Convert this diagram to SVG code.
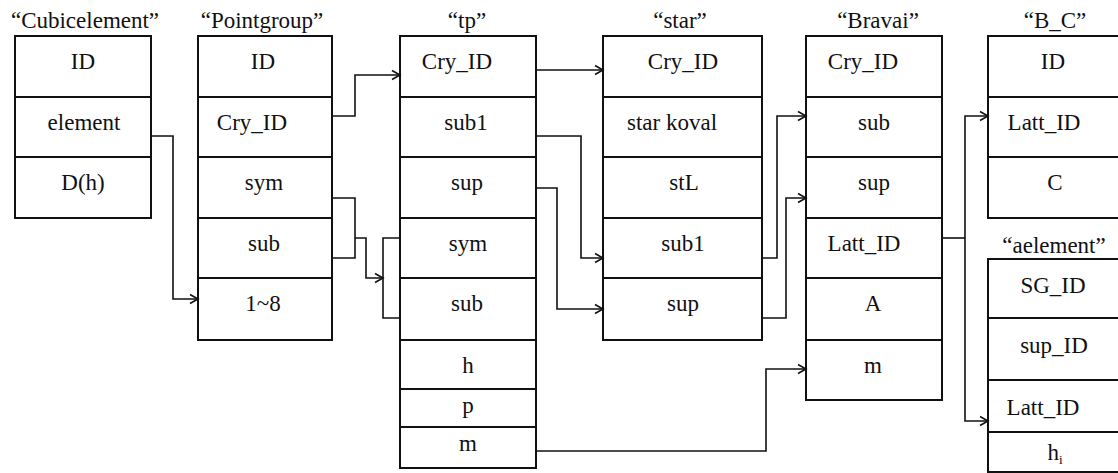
<svg xmlns="http://www.w3.org/2000/svg" width="1118" height="473" viewBox="0 0 1118 473">
  <style>
    .box { fill: #fff; stroke: #111; stroke-width: 2; }
    .sep { stroke: #111; stroke-width: 2; }
    .lbl { font-size: 23px; fill: #111; text-anchor: middle; }
    .wire { fill: none; stroke: #111; stroke-width: 1.6; }
    .arr { marker-end: url(#chev); }
  </style>
  <defs>
    <marker id="chev" markerUnits="userSpaceOnUse" markerWidth="12" markerHeight="12" viewBox="0 0 12 12" refX="10" refY="6" orient="auto">
      <path d="M2,1.5 L10,6 L2,10.5" fill="none" stroke="#111" stroke-width="1.6"/>
    </marker>
  </defs>
  <rect width="1118" height="473" fill="#fff"/>

  <g font-family="Liberation Serif, Tinos, Times New Roman, Times, DejaVu Serif, Noto Serif, FreeSerif, serif">
  <!-- table: Cubicelement -->
  <g id="cubicelement">
    <text class="lbl" x="85" y="28">“Cubicelement”</text>
    <rect class="box" x="15" y="36" width="136" height="182"/>
    <line class="sep" x1="15" y1="97" x2="151" y2="97"/>
    <line class="sep" x1="15" y1="157" x2="151" y2="157"/>
    <text class="lbl" x="83" y="69">ID</text>
    <text class="lbl" x="84" y="130">element</text>
    <text class="lbl" x="83" y="190">D(h)</text>
  </g>

  <!-- table: Pointgroup -->
  <g id="pointgroup">
    <text class="lbl" x="262" y="28">“Pointgroup”</text>
    <rect class="box" x="198" y="36" width="134" height="304"/>
    <line class="sep" x1="198" y1="97" x2="332" y2="97"/>
    <line class="sep" x1="198" y1="157" x2="332" y2="157"/>
    <line class="sep" x1="198" y1="218" x2="332" y2="218"/>
    <line class="sep" x1="198" y1="278" x2="332" y2="278"/>
    <text class="lbl" x="263" y="69">ID</text>
    <text class="lbl" x="252" y="130">Cry_ID</text>
    <text class="lbl" x="264" y="190">sym</text>
    <text class="lbl" x="264" y="251">sub</text>
    <text class="lbl" x="263" y="311">1~8</text>
  </g>

  <!-- table: tp -->
  <g id="tp">
    <text class="lbl" x="467" y="28">“tp”</text>
    <rect class="box" x="400" y="36" width="136" height="432"/>
    <line class="sep" x1="400" y1="97" x2="536" y2="97"/>
    <line class="sep" x1="400" y1="157" x2="536" y2="157"/>
    <line class="sep" x1="400" y1="218" x2="536" y2="218"/>
    <line class="sep" x1="400" y1="278" x2="536" y2="278"/>
    <line class="sep" x1="400" y1="340" x2="536" y2="340"/>
    <line class="sep" x1="400" y1="389" x2="536" y2="389"/>
    <line class="sep" x1="400" y1="427" x2="536" y2="427"/>
    <text class="lbl" x="457" y="69">Cry_ID</text>
    <text class="lbl" x="466" y="130">sub1</text>
    <text class="lbl" x="467" y="190">sup</text>
    <text class="lbl" x="468" y="251">sym</text>
    <text class="lbl" x="467" y="311">sub</text>
    <text class="lbl" x="468" y="373">h</text>
    <text class="lbl" x="468" y="413">p</text>
    <text class="lbl" x="468" y="451">m</text>
  </g>

  <!-- table: star -->
  <g id="star">
    <text class="lbl" x="680" y="28">“star”</text>
    <rect class="box" x="603" y="36" width="159" height="304"/>
    <line class="sep" x1="603" y1="97" x2="762" y2="97"/>
    <line class="sep" x1="603" y1="157" x2="762" y2="157"/>
    <line class="sep" x1="603" y1="218" x2="762" y2="218"/>
    <line class="sep" x1="603" y1="278" x2="762" y2="278"/>
    <text class="lbl" x="683" y="69">Cry_ID</text>
    <text class="lbl" x="672" y="130">star koval</text>
    <text class="lbl" x="684" y="190">stL</text>
    <text class="lbl" x="683" y="251">sub1</text>
    <text class="lbl" x="683" y="311">sup</text>
  </g>

  <!-- table: Bravai -->
  <g id="bravai">
    <text class="lbl" x="878" y="28">“Bravai”</text>
    <rect class="box" x="806" y="36" width="136" height="364"/>
    <line class="sep" x1="806" y1="97" x2="942" y2="97"/>
    <line class="sep" x1="806" y1="157" x2="942" y2="157"/>
    <line class="sep" x1="806" y1="218" x2="942" y2="218"/>
    <line class="sep" x1="806" y1="278" x2="942" y2="278"/>
    <line class="sep" x1="806" y1="340" x2="942" y2="340"/>
    <text class="lbl" x="863" y="69">Cry_ID</text>
    <text class="lbl" x="874" y="130">sub</text>
    <text class="lbl" x="874" y="190">sup</text>
    <text class="lbl" x="864" y="251">Latt_ID</text>
    <text class="lbl" x="873" y="311">A</text>
    <text class="lbl" x="873" y="373">m</text>
  </g>

  <!-- table: B_C (continues past the right edge) -->
  <g id="b_c">
    <text class="lbl" x="1055" y="28">“B_C”</text>
    <rect class="box" x="988" y="36" width="150" height="182"/>
    <line class="sep" x1="988" y1="97" x2="1138" y2="97"/>
    <line class="sep" x1="988" y1="157" x2="1138" y2="157"/>
    <text class="lbl" x="1053" y="69">ID</text>
    <text class="lbl" x="1044" y="130">Latt_ID</text>
    <text class="lbl" x="1055" y="190">C</text>
  </g>

  <!-- table: aelement (continues past the right and bottom edges) -->
  <g id="aelement">
    <text class="lbl" x="1054" y="253">“aelement”</text>
    <rect class="box" x="988" y="259" width="150" height="213"/>
    <line class="sep" x1="988" y1="318" x2="1138" y2="318"/>
    <line class="sep" x1="988" y1="380" x2="1138" y2="380"/>
    <line class="sep" x1="988" y1="432" x2="1138" y2="432"/>
    <text class="lbl" x="1053" y="293">SG_ID</text>
    <text class="lbl" x="1054" y="353">sup_ID</text>
    <text class="lbl" x="1043" y="415">Latt_ID</text>
    <text class="lbl" x="1055" y="460">h<tspan font-size="13" dy="4">i</tspan></text>
  </g>
  </g>

  <!-- key links between the tables -->
  <g id="connectors">
    <path class="wire arr" d="M151,136 H173 V299 H198"/>
    <path class="wire arr" d="M332,116 H355 V75 H400"/>
    <path class="wire" d="M332,198 H355 V258 H332"/>
    <path class="wire arr" d="M355,238 H366 V278 H383"/>
    <path class="wire" d="M400,238 H383 V318 H400"/>
    <path class="wire arr" d="M536,70 H603"/>
    <path class="wire arr" d="M536,136 H581 V258 H603"/>
    <path class="wire arr" d="M536,188 H557 V309 H603"/>
    <path class="wire arr" d="M762,258 H777 V116 H806"/>
    <path class="wire arr" d="M762,318 H786 V198 H806"/>
    <path class="wire arr" d="M536,451 H766 V369 H806"/>
    <path class="wire" d="M942,238 H965"/>
    <path class="wire arr" d="M965,238 V116 H988"/>
    <path class="wire arr" d="M965,238 V421 H988"/>
  </g>
</svg>
